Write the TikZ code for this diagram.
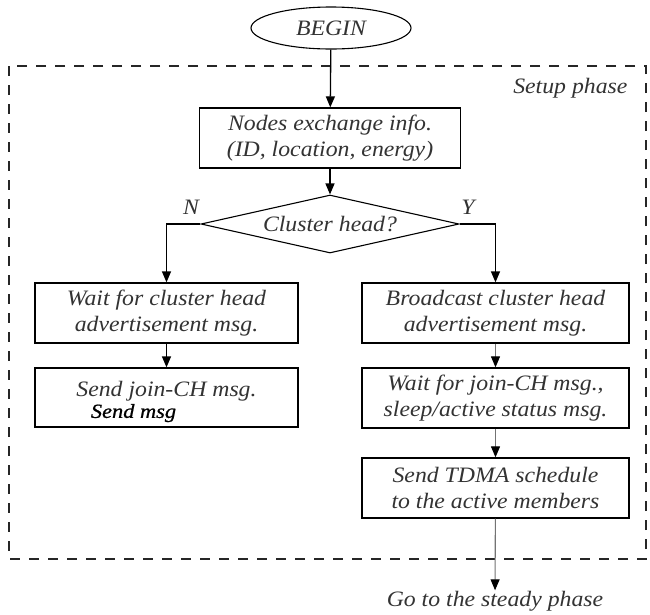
\documentclass[tikz,border=0pt]{standalone}
\usepackage{fontspec}
\setmainfont[FakeStretch=1.08]{Liberation Serif}
\newfontfamily\sendfont[FakeStretch=1.12,FakeBold=0.8]{Liberation Serif}
\usetikzlibrary{arrows.meta,shapes.geometric}
\begin{document}
\begin{tikzpicture}[x=1pt,y=-1pt,
  every node/.style={font=\fontsize{22}{26}\selectfont\itshape, text=black!80},
  box/.style={draw=black, line width=1.3pt, inner sep=0pt, align=center, minimum height=60pt},
  lbox/.style={box, minimum width=263pt},
  rbox/.style={box, minimum width=267pt},
  arr/.style={-{Triangle[length=11pt,width=9pt]}, line width=1.3pt},
  garr/.style={-{Triangle[length=11pt,width=9pt,color=black]}, line width=1.1pt, draw=black!55},
  frame/.style={draw=black!85, line width=1.2pt, dash pattern=on 10pt off 9pt}
]
\useasboundingbox (0,0) rectangle (650,614);
\fill[white] (0,0) rectangle (650,614);

\draw[frame] (9,66) rectangle (646,559);

\node[draw=black, line width=1.1pt, ellipse, minimum width=160pt, minimum height=42pt, inner sep=0pt] (begin) at (331,28) {BEGIN};
\node[anchor=east] (setup) at (631,88) {Setup phase};

\node[box, minimum width=261pt] (info) at (330,138) {Nodes exchange info.\\(ID, location, energy)};
\node[draw=black, line width=1.1pt, diamond, aspect=4.45, minimum width=258pt, minimum height=58pt, inner sep=0pt] (ch) at (330,224) {Cluster head?};
\node (n) at (191,207) {N};
\node (y) at (468,207) {Y};

\node[lbox] (l1) at (166.5,313) {Wait for cluster head\\advertisement msg.};
\node[lbox, minimum height=59pt] (l2) at (166.5,397.5) {\rule{0pt}{24pt}Send join-CH msg.\\[-5pt]\hspace*{-66pt}{\sendfont\itshape\fontsize{20}{22}\selectfont\color{black}Send msg}};

\node[rbox] (r1) at (495.5,313) {Broadcast cluster head\\advertisement msg.};
\node[rbox] (r2) at (495.5,398) {Wait for join-CH msg.,\\sleep/active status msg.};
\node[rbox] (r3) at (495.5,488) {Send TDMA schedule\\to the active members};

\node[inner sep=0.5pt] (goal) at (495,601) {Go to the steady phase};

\draw[arr] (begin) -- (info);
\draw[arr] (info) -- (ch);
\draw[arr] (ch.west) -| (l1.north);
\draw[arr] (ch.east) -| (r1.north);
\draw[arr] (l1) -- (l2);
\draw[garr] (r1) -- (r2);
\draw[garr] (r2) -- (r3);
\draw[garr] (r3) -- (goal);
\end{tikzpicture}
\end{document}
